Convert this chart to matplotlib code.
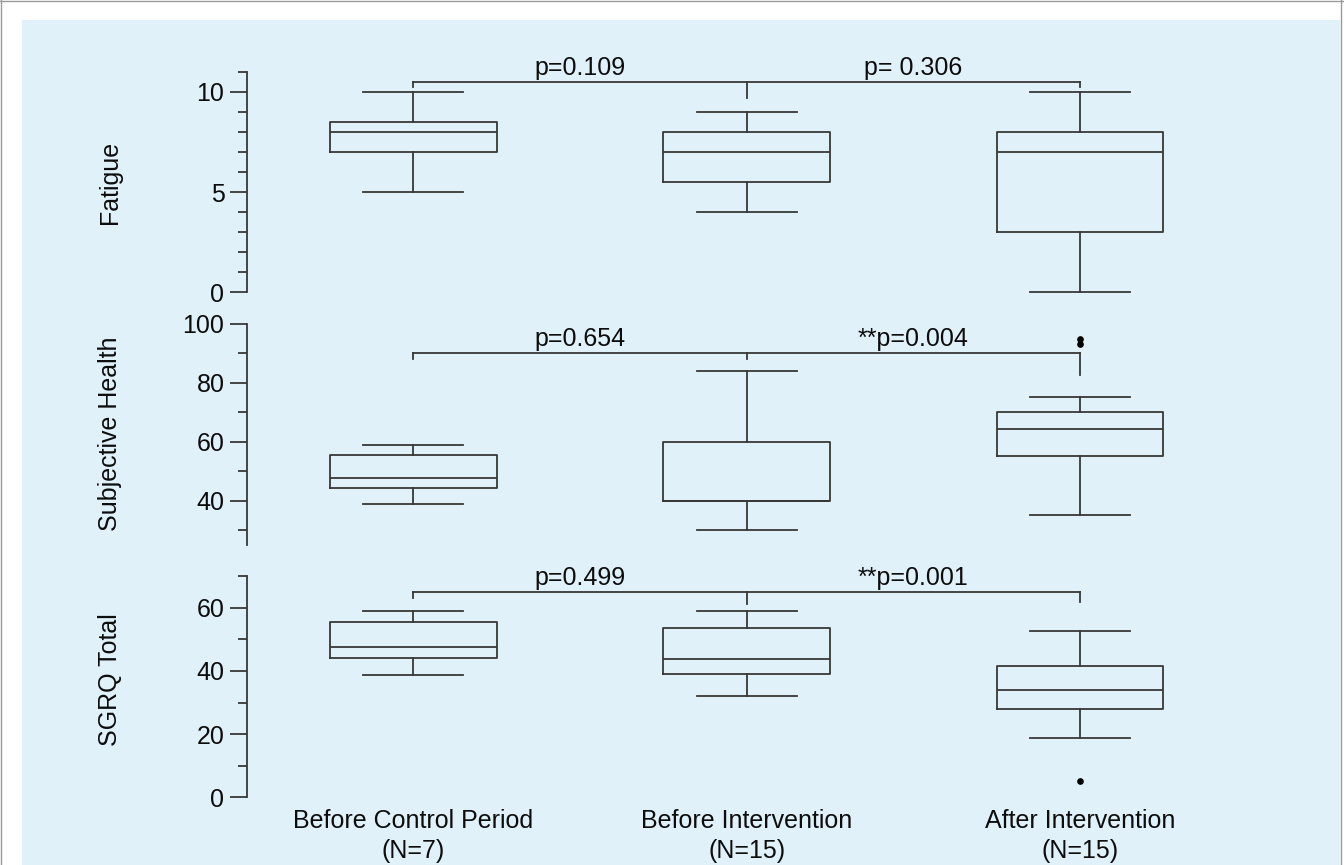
import matplotlib
matplotlib.use("Agg")
import matplotlib.pyplot as plt
from matplotlib.patches import Rectangle
import numpy as np

plt.rcParams['font.family'] = ['Liberation Sans', 'DejaVu Sans']

# ---------------- data ----------------
categories = ["Before Control Period\n(N=7)", "Before Intervention\n(N=15)", "After Intervention\n(N=15)"]
positions = [1, 2, 3]

fatigue_whislo = [5.0, 4.0, 0.0]
fatigue_q1 = [7.0, 5.5, 3.0]
fatigue_med = [8.0, 7.0, 7.0]
fatigue_q3 = [8.5, 8.0, 8.0]
fatigue_whishi = [10.0, 9.0, 10.0]
fatigue_fliers = [[], [], []]

health_whislo = [38.9, 30.0, 35.1]
health_q1 = [44.2, 40.0, 55.2]
health_med = [47.6, 40.0, 64.2]
health_q3 = [55.4, 60.0, 70.1]
health_whishi = [59.0, 84.0, 75.1]
health_fliers = [[], [], [93.1, 94.8]]

sgrq_whislo = [38.8, 32.2, 18.7]
sgrq_q1 = [44.2, 39.1, 27.8]
sgrq_med = [47.5, 43.9, 34.1]
sgrq_q3 = [55.5, 53.6, 41.6]
sgrq_whishi = [59.0, 58.9, 52.5]
sgrq_fliers = [[], [], [5.3]]

panel_labels = ["Fatigue", "Subjective Health", "SGRQ Total"]

p_texts = [["p=0.109", "p= 0.306"], ["p=0.654", "**p=0.004"], ["p=0.499", "**p=0.001"]]
bracket_levels = [10.5, 90.3, 64.9]
bracket_ends = [[10.25, 9.67, 10.25], [88.0, 88.0, 82.7], [63.0, 61.3, 61.8]]

# ---------------- layout (pixels) ----------------
W, H = 1344, 865
fig = plt.figure(figsize=(W / 100, H / 100), dpi=100)
fig.patch.set_facecolor('white')

# background panel drawn in a full-figure axes beneath everything
bgax = fig.add_axes([0, 0, 1, 1], zorder=-10)
bgax.set_xlim(0, W)
bgax.set_ylim(H, 0)
bgax.axis('off')
bgax.add_patch(Rectangle((22, 20), 1340 - 22, H - 20, facecolor='#e1f1fa', edgecolor='none'))
bgax.plot([1, 1], [0, H], color='#9a9a9a', lw=1.0)
bgax.plot([0, W], [1, 1], color='#9a9a9a', lw=1.0)
bgax.plot([1341, 1341], [0, H], color='#9a9a9a', lw=1.0)

x_left_px = 246.7
x_unit_px = 333.3
xlim = (0.5, 3.5)

# (value at ref pixel, ref pixel, px per unit, ylim, spine bounds, major, minor)
panel_geo = [
    (0, 292.3, 20.06, (-0.3, 11.0), (0, 11), [0, 5, 10], list(range(0, 12))),
    (100, 324.0, 2.944, (24, 101), (25, 100), [40, 60, 80, 100], [30, 50, 70, 90]),
    (0, 797.3, 3.16, (-1, 71), (0, 70), [0, 20, 40, 60], [10, 30, 50, 70]),
]

data = [
    (fatigue_whislo, fatigue_q1, fatigue_med, fatigue_q3, fatigue_whishi, fatigue_fliers),
    (health_whislo, health_q1, health_med, health_q3, health_whishi, health_fliers),
    (sgrq_whislo, sgrq_q1, sgrq_med, sgrq_q3, sgrq_whishi, sgrq_fliers),
]
ylabel_centers = [(110, 182), (110, 434), (110, 680)]

lc = '#383838'
lw = 1.3
fs = 18
tc = '#0d0d0d'

for i, (v0, p0, s, ylim, bounds, major, minor) in enumerate(panel_geo):
    bottom_px = p0 + (v0 - ylim[0]) * s
    top_px = p0 - (ylim[1] - v0) * s
    width_px = (xlim[1] - xlim[0]) * x_unit_px
    ax = fig.add_axes([x_left_px / W, 1 - bottom_px / H, width_px / W, (bottom_px - top_px) / H])
    ax.set_facecolor('none')
    ax.set_xlim(*xlim)
    ax.set_ylim(*ylim)
    for sp in ['top', 'right', 'bottom']:
        ax.spines[sp].set_visible(False)
    ax.spines['left'].set_bounds(*bounds)
    ax.spines['left'].set_color(lc)
    ax.spines['left'].set_linewidth(lw)
    ax.set_yticks(major)
    ax.set_yticks(minor, minor=True)
    ax.tick_params(axis='y', which='major', length=12, width=lw, color=lc, pad=4, labelsize=fs, labelcolor=tc)
    ax.tick_params(axis='y', which='minor', length=6.5, width=lw, color=lc)

    wl, q1, md, q3, wh, fl = data[i]
    stats = []
    for k in range(3):
        stats.append(dict(med=md[k], q1=q1[k], q3=q3[k], whislo=wl[k], whishi=wh[k], fliers=fl[k]))
    ax.bxp(stats, positions=positions, widths=0.5, capwidths=0.3, showfliers=True,
           boxprops=dict(color=lc, linewidth=lw),
           whiskerprops=dict(color=lc, linewidth=lw),
           capprops=dict(color=lc, linewidth=lw),
           medianprops=dict(color=lc, linewidth=lw),
           flierprops=dict(marker='o', markersize=3.8, markerfacecolor='black', markeredgecolor='black'))

    # significance brackets
    lev = bracket_levels[i]
    ends = bracket_ends[i]
    ax.plot([positions[0], positions[2]], [lev, lev], color=lc, lw=lw, clip_on=False)
    for k in range(3):
        ax.plot([positions[k], positions[k]], [lev, ends[k]], color=lc, lw=lw, clip_on=False)
    for j in range(2):
        xm = (positions[j] + positions[j + 1]) / 2
        ax.annotate(p_texts[i][j], xy=(xm, lev), xytext=(0, 5), textcoords='offset points',
                    ha='center', va='baseline', fontsize=fs, color=tc, annotation_clip=False)

    if i < 2:
        ax.set_xticks([])
    else:
        ax.set_xticks(positions)
        ax.set_xticklabels(categories, fontsize=fs, color=tc, linespacing=1.35)
        ax.tick_params(axis='x', length=0, pad=6)

    cx, cy = ylabel_centers[i]
    fig.text(cx / W, 1 - cy / H, panel_labels[i], rotation=90, ha='center', va='center',
             fontsize=fs, color=tc)

fig.savefig('out.png', dpi=100, facecolor='white')
